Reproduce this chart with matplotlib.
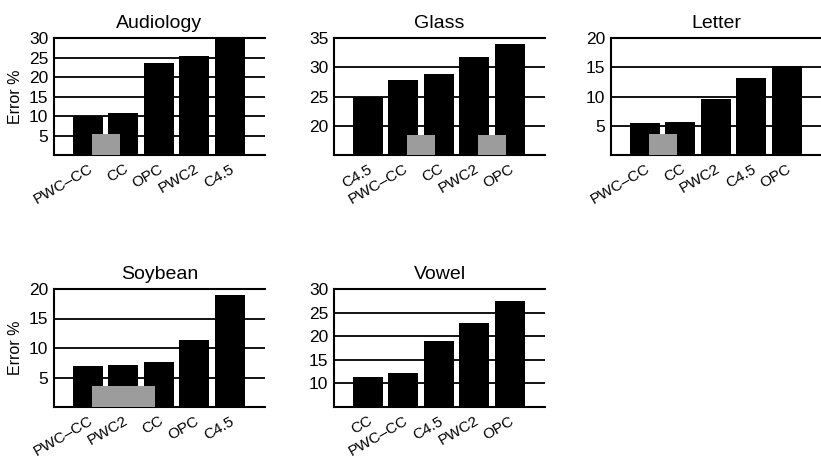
import numpy as np
import matplotlib
matplotlib.use('Agg')
import matplotlib.pyplot as plt
import matplotlib.transforms as mtransforms

plt.rcParams['font.family'] = ['Liberation Sans', 'DejaVu Sans']

# ============================================================
# 数据 (error %)
# ============================================================

audiology_labels = ['PWC–CC', 'CC', 'OPC', 'PWC2', 'C4.5']
audiology_err = [10.1, 10.8, 23.5, 25.3, 30.0]

glass_labels = ['C4.5', 'PWC–CC', 'CC', 'PWC2', 'OPC']
glass_err = [25.0, 27.9, 28.9, 31.8, 33.9]

letter_labels = ['PWC–CC', 'CC', 'PWC2', 'C4.5', 'OPC']
letter_err = [5.5, 5.7, 9.5, 13.1, 15.2]

soybean_labels = ['PWC–CC', 'PWC2', 'CC', 'OPC', 'C4.5']
soybean_err = [7.0, 7.2, 7.6, 11.4, 18.9]

vowel_labels = ['CC', 'PWC–CC', 'C4.5', 'PWC2', 'OPC']
vowel_err = [11.4, 12.1, 19.0, 22.9, 27.5]

# gray bands linking bars that are not significantly different: (first bar, last bar, top)
audiology_groups = [(0, 1, 5.3)]
glass_groups = [(1, 2, 18.4), (3, 4, 18.4)]
letter_groups = [(0, 1, 3.6)]
soybean_groups = [(0, 2, 3.6)]
vowel_groups = []

# y axis ticks
audiology_yticks = [5, 10, 15, 20, 25, 30]
glass_yticks = [20, 25, 30, 35]
letter_yticks = [5, 10, 15, 20]
soybean_yticks = [5, 10, 15, 20]
vowel_yticks = [10, 15, 20, 25, 30]


# ============================================================
# 绘图
# ============================================================

fig = plt.figure(figsize=(8.21, 4.61), dpi=100)

W, H = 821, 461


def make_axes(left, top, width, height):
    return fig.add_axes([left / W, 1 - (top + height) / H, width / W, height / H])


panels = [
    ('Audiology', audiology_labels, audiology_err, audiology_groups, (0, 30), audiology_yticks, (54, 38, 211, 117), True),
    ('Glass', glass_labels, glass_err, glass_groups, (15, 35), glass_yticks, (334, 38, 211, 117), False),
    ('Letter', letter_labels, letter_err, letter_groups, (0, 20), letter_yticks, (611, 38, 211, 117), False),
    ('Soybean', soybean_labels, soybean_err, soybean_groups, (0, 20), soybean_yticks, (54, 289, 211, 118), True),
    ('Vowel', vowel_labels, vowel_err, vowel_groups, (5, 30), vowel_yticks, (334, 289, 211, 118), False),
]

# shift x labels a little to the left
shift = mtransforms.ScaledTranslation(-5 / 100, 0, fig.dpi_scale_trans)

for title, labels, err, groups, ylim, yticks, box, show_ylabel in panels:
    ax = make_axes(*box)
    x = np.arange(len(labels))

    # grid behind bars
    ax.set_axisbelow(True)
    ax.yaxis.grid(True, color='black', linewidth=1.3)

    ax.bar(x, np.array(err) - ylim[0], bottom=ylim[0], width=0.85, color='black', zorder=2)

    for i, j, top in groups:
        ax.bar(i + 0.1, top - ylim[0], bottom=ylim[0], width=(j - i) - 0.2,
               align='edge', color='#9c9c9c', zorder=3)

    ax.set_xlim(-0.96, 5.0)
    ax.set_ylim(*ylim)
    ax.set_yticks(yticks)
    ax.set_xticks(x)
    ax.set_xticklabels(labels, rotation=30, ha='right', rotation_mode='anchor', fontsize=11)
    for lbl in ax.get_xticklabels():
        lbl.set_transform(lbl.get_transform() + shift)
    ax.tick_params(axis='y', length=0, pad=4, labelsize=12.5)
    ax.tick_params(axis='x', length=0, pad=5)

    ax.spines['right'].set_visible(False)
    for s in ('left', 'bottom', 'top'):
        ax.spines[s].set_linewidth(1.5)

    ax.set_title(title, fontsize=14, pad=7)
    if show_ylabel:
        ax.set_ylabel('Error %', fontsize=11.5, labelpad=4)

plt.savefig('out.png', dpi=100)
plt.close()
